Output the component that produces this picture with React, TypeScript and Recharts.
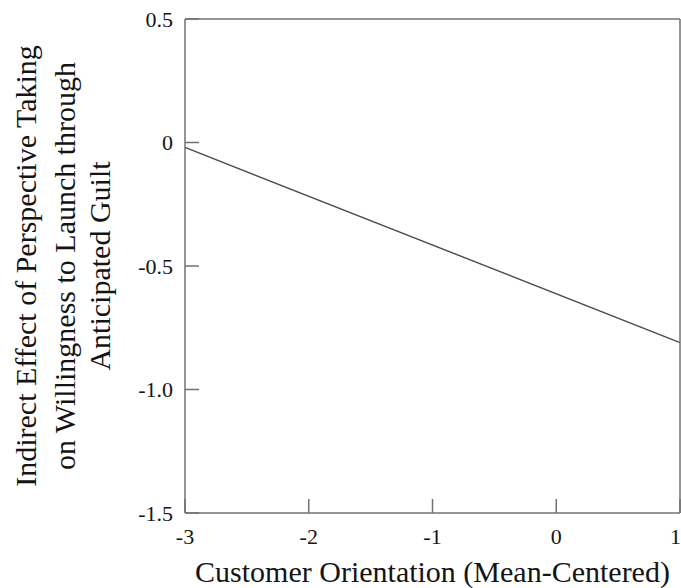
import { LineChart, Line, XAxis, YAxis } from "recharts";

// Conditional indirect effect across customer orientation (mean-centered)
const orientation = [-3, 1];
const indirectEffect = [-0.02, -0.81];

const xTicks = [-3, -2, -1, 0, 1];
const yTicks = [-1.5, -1, -0.5, 0, 0.5];

const xTitle = "Customer Orientation (Mean-Centered)";
const yTitleLines = [
  "Indirect Effect of Perspective Taking",
  "on Willingness to Launch through",
  "Anticipated Guilt",
];

const data = orientation.map((x, i) => ({ x, effect: indirectEffect[i] }));

const FONT = "Liberation Serif, Times New Roman, serif";
const FRAME = "#727272";
const INK = "#141414";

const tickStyle = { fill: INK, fontSize: 22, fontFamily: FONT, style: { fontFamily: FONT } };
const frameLine = { stroke: FRAME, strokeWidth: 1.5 };

const fmtY = (v: number) => (v === 0 ? "0" : v.toFixed(1));

// baselines of the rotated y-title lines, measured from the left edge
const Y_TITLE_BASELINES = [36, 75, 110];

function YTitle(props: any) {
  const vb = props.viewBox || {};
  const cy = vb.y + vb.height / 2;
  return (
    <g>
      {yTitleLines.map((line, i) => {
        const bx = vb.x + Y_TITLE_BASELINES[i];
        return (
          <text
            key={line}
            x={bx}
            y={cy}
            transform={`rotate(-90, ${bx}, ${cy})`}
            textAnchor="middle"
            fontSize={30}
            fill={INK}
            style={{ fontFamily: FONT }}
          >
            {line}
          </text>
        );
      })}
    </g>
  );
}

function XTitle(props: any) {
  const vb = props.viewBox || {};
  return (
    <text
      x={vb.x + vb.width / 2}
      y={vb.y + vb.height - 3}
      textAnchor="middle"
      fontSize={30}
      fill={INK}
      style={{ fontFamily: FONT }}
    >
      {xTitle}
    </text>
  );
}

export default function App() {
  return (
    <div style={{ position: "absolute", left: 0, top: 0, background: "#fff", fontFamily: FONT }}>
      <LineChart
        width={681}
        height={588}
        data={data}
        margin={{ top: 18, right: 0, bottom: 3, left: 0 }}
        style={{ fontFamily: FONT }}
      >
        <XAxis
          dataKey="x"
          type="number"
          domain={[-3, 1]}
          ticks={xTicks}
          tickFormatter={(v: number) => String(v)}
          height={72}
          tickSize={-14}
          tickMargin={29}
          stroke={FRAME}
          axisLine={frameLine}
          tickLine={frameLine}
          tick={tickStyle}
          label={{ content: XTitle }}
        />
        <XAxis
          xAxisId="top"
          dataKey="x"
          type="number"
          orientation="top"
          domain={[-3, 1]}
          ticks={xTicks}
          height={1}
          tickSize={-14}
          stroke={FRAME}
          axisLine={frameLine}
          tickLine={frameLine}
          tick={false}
        />
        <YAxis
          type="number"
          domain={[-1.5, 0.5]}
          ticks={yTicks}
          tickFormatter={fmtY}
          width={185}
          tickSize={-14}
          tickMargin={26}
          stroke={FRAME}
          axisLine={frameLine}
          tickLine={frameLine}
          tick={tickStyle}
          label={{ content: YTitle }}
        />
        <YAxis
          yAxisId="right"
          type="number"
          orientation="right"
          domain={[-1.5, 0.5]}
          ticks={yTicks}
          width={1}
          tickSize={-14}
          stroke={FRAME}
          axisLine={frameLine}
          tickLine={frameLine}
          tick={false}
        />
        <Line
          type="linear"
          dataKey="effect"
          stroke="#4a4a4a"
          strokeWidth={1.4}
          dot={false}
          activeDot={false}
          isAnimationActive={false}
        />
      </LineChart>
    </div>
  );
}
